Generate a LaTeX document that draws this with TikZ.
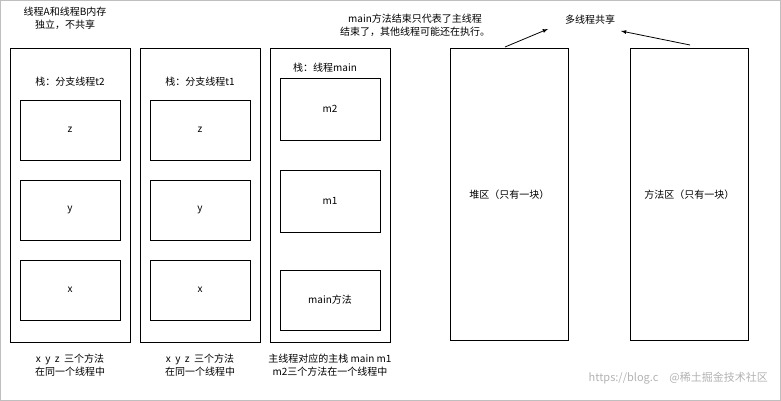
\documentclass[tikz,border=0pt]{standalone}
\usepackage{fontspec}
\setmainfont{Noto Sans CJK SC}
\begin{document}
\begin{tikzpicture}[x=1pt,y=-1pt,
  bx/.style={draw,line width=0.8pt},
  t/.style={font=\fontsize{10}{13}\selectfont,align=center,inner sep=0pt},
  arr/.style={-latex,line width=0.8pt}]
\useasboundingbox (0,0) rectangle (781,401);
\draw[gray!50] (0.5,0.5) rectangle (780.5,400.5);
% stack t2
\node[bx,minimum width=120,minimum height=294,anchor=north west] (s1) at (10,48) {};
\node[t] (s1l) at (70,82) {栈：分支线程t2};
\node[bx,minimum width=100,minimum height=60] (z1) at (70,130) {z};
\node[bx,minimum width=100,minimum height=60] (y1) at (70,210) {y};
\node[bx,minimum width=100,minimum height=60] (x1) at (70,290) {x};
% stack t1
\node[bx,minimum width=120,minimum height=294,anchor=north west] (s2) at (140,48) {};
\node[t] (s2l) at (200,82) {栈：分支线程t1};
\node[bx,minimum width=100,minimum height=60] (z2) at (200,130) {z};
\node[bx,minimum width=100,minimum height=60] (y2) at (200,210) {y};
\node[bx,minimum width=100,minimum height=60] (x2) at (200,290) {x};
% main
\node[bx,minimum width=120,minimum height=294,anchor=north west] (s3) at (270,48) {};
\node[t] (s3l) at (325,68) {栈：线程main};
\node[bx,minimum width=100,minimum height=62] (m2) at (330,109) {m2};
\node[bx,minimum width=100,minimum height=62] (m1) at (330,201) {m1};
\node[bx,minimum width=100,minimum height=60] (mm) at (330,300) {main方法};
% heap & method area
\node[bx,minimum width=118,minimum height=292,anchor=north west] (heap) at (450,48) {};
\node[t] at (heap.center) {堆区（只有一块）};
\node[bx,minimum width=118,minimum height=292,anchor=north west] (meth) at (630,48) {};
\node[t] at (meth.center) {方法区（只有一块）};
% texts
\node[t] (ta) at (65,18) {线程A和线程B内存\\独立，不共享};
\node[t] (tm) at (415,25) {main方法结束只代表了主线程\\结束了，其他线程可能还在执行。};
\node[t] (ts) at (590,20) {多线程共享};
\coordinate (a1) at (505,47); \coordinate (a2) at (690,45);
\draw[arr] (a1) -- (548,29);
\draw[arr] (a2) -- (621,31);
\node[t] (b1) at (70,365) {x\ \ y\ \ z\ \ 三个方法\\在同一个线程中};
\node[t] (b2) at (200,365) {x\ \ y\ \ z\ \ 三个方法\\在同一个线程中};
\node[t] (b3) at (330,365) {主线程对应的主栈 main m1\\m2三个方法在一个线程中};
\node[font=\fontsize{11}{13}\selectfont,text=gray!60,anchor=east,inner sep=0pt] (wm) at (768,378) {https://blog.c\quad @稀土掘金技术社区};
\end{tikzpicture}
\end{document}
